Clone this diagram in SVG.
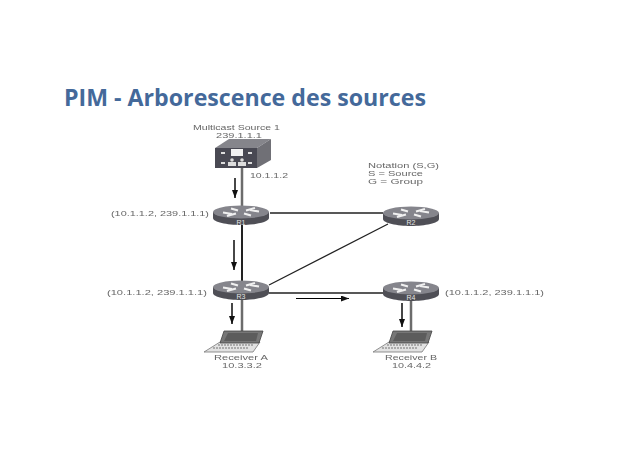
<svg xmlns="http://www.w3.org/2000/svg" width="638" height="452" viewBox="0 0 638 452">
<style>
.t{font-family:"Liberation Sans",Arial,sans-serif;font-size:7px;fill:#666;text-anchor:start;filter:url(#soft)}
.r{font-family:"Liberation Sans",Arial,sans-serif;font-size:7px;fill:#e4e4e4;text-anchor:middle}
.title{font-family:"Open Sans","Noto Sans",sans-serif;font-weight:700;font-size:23px;fill:#44699a}
.dark{stroke:#222;fill:none}
.grey{stroke:#6c6c6c;fill:none}
.flow{stroke:#333;stroke-width:1.800;fill:none;marker-end:url(#a)}
.top{fill:#85858c}.side{fill:#4f4f56}.mark{stroke:#f0f0f0;stroke-width:2.200;fill:none}
.icon{filter:url(#soft)}
</style>
<defs>
<filter id="soft" x="-5%" y="-30%" width="110%" height="160%"><feGaussianBlur stdDeviation="0.350"/></filter>
<marker id="a" markerUnits="userSpaceOnUse" markerWidth="9" markerHeight="6" refX="8" refY="3" orient="auto"><path d="M0 0L8 3L0 6Z" fill="#111"/></marker>
<g id="router">
<path class="side" d="M-28 0V6C-28 10-14 13 0 13S28 10 28 6V0Z"/>
<ellipse class="top" cx="0" cy="0" rx="28" ry="6.500"/>
<path class="mark" d="M-18 0.500L-9 2M-14 4L-5 1.500M18-0.500L9-2M14-4L5-1.500M-10-3.500L-3-1.500M10 3.500L3 1.500"/>
</g>
<g id="laptop">
<path d="M-16 11H24L17 21H-32Z" fill="#e2e2e2" stroke="#777" stroke-width="0.800"/>
<path d="M-12 0H27L23 12H-16Z" fill="#777" stroke="#444" stroke-width="0.800"/>
<path d="M-8 2H22L20 10H-12Z" fill="#5c5c5c"/>
<path d="M-18 14H18M-23 17H13" stroke="#999" stroke-width="1.500" stroke-dasharray="2 1"/>
</g>
</defs>
<rect width="638" height="452" fill="#fff"/>
<text class="title" x="64" y="106" textLength="362" lengthAdjust="spacingAndGlyphs">PIM - Arborescence des sources</text>
<g id="connectors">
<path class="grey" stroke-width="2.500" d="M242 168V207M242 299V331M411 299V331"/>
<path class="dark" stroke-width="2" d="M242 225V282"/>
<path class="dark" stroke-width="1.300" d="M270 213H383M269 285L388 224M269 293H383"/>
<path class="flow" d="M235 178V198"/>
<path class="flow" d="M234 240V270"/>
<path class="flow" d="M232 303V324"/>
<path class="flow" stroke-width="2.500" d="M402 303V327"/>
<path stroke="#000" fill="none" stroke-width="1" marker-end="url(#a)" d="M296 298.500H349"/>
</g>
<g id="source">
<g class="icon">
<path d="M215 148L229 139H271L257 148Z" fill="#85858b"/>
<rect x="215" y="148" width="42" height="20" fill="#4a4a52"/>
<path d="M257 148L271 139V160L257 168Z" fill="#6f6f76"/>
<rect x="231" y="149" width="12" height="7" fill="#f2f2f2"/>
<path d="M221 153H225M248 153H252M221 163H225M248 163H252" stroke="#ddd" stroke-width="2"/>
<path d="M228 166V162H236V166ZM238 166V162H246V166Z" fill="#ddd"/>
<circle cx="232" cy="160" r="1.800" fill="#ddd"/><circle cx="242" cy="160" r="1.800" fill="#ddd"/>
</g>
<text class="t" x="193" y="129.500" textLength="87" lengthAdjust="spacingAndGlyphs">Multicast Source 1</text>
<text class="t" x="216" y="137.500" textLength="46" lengthAdjust="spacingAndGlyphs">239.1.1.1</text>
<text class="t" x="250" y="178" textLength="38" lengthAdjust="spacingAndGlyphs">10.1.1.2</text>
</g>
<g id="notation">
<text class="t" x="368" y="167.500" textLength="71" lengthAdjust="spacingAndGlyphs">Notation (S,G)</text>
<text class="t" x="368" y="175.500" textLength="55" lengthAdjust="spacingAndGlyphs">S = Source</text>
<text class="t" x="368" y="183.500" textLength="55" lengthAdjust="spacingAndGlyphs">G = Group</text>
</g>
<g id="r1"><use class="icon" href="#router" x="241" y="212"/><text class="r" x="241" y="224.500">R1</text><text class="t" x="111" y="216" textLength="98" lengthAdjust="spacingAndGlyphs">(10.1.1.2, 239.1.1.1)</text></g>
<g id="r2"><use class="icon" href="#router" x="411" y="213"/><text class="r" x="411" y="225">R2</text></g>
<g id="r3"><use class="icon" href="#router" x="241" y="287"/><text class="r" x="241" y="299">R3</text><text class="t" x="107" y="295" textLength="100" lengthAdjust="spacingAndGlyphs">(10.1.1.2, 239.1.1.1)</text></g>
<g id="r4"><use class="icon" href="#router" x="411" y="288"/><text class="r" x="411" y="300">R4</text><text class="t" x="445" y="295" textLength="99" lengthAdjust="spacingAndGlyphs">(10.1.1.2, 239.1.1.1)</text></g>
<g id="receiver-a"><use class="icon" href="#laptop" x="236" y="331"/><text class="t" x="214" y="360" textLength="54" lengthAdjust="spacingAndGlyphs">Receiver A</text><text class="t" x="222" y="368" textLength="40" lengthAdjust="spacingAndGlyphs">10.3.3.2</text></g>
<g id="receiver-b"><use class="icon" href="#laptop" x="405" y="331"/><text class="t" x="385" y="360" textLength="52" lengthAdjust="spacingAndGlyphs">Receiver B</text><text class="t" x="392" y="368" textLength="39" lengthAdjust="spacingAndGlyphs">10.4.4.2</text></g>
</svg>
